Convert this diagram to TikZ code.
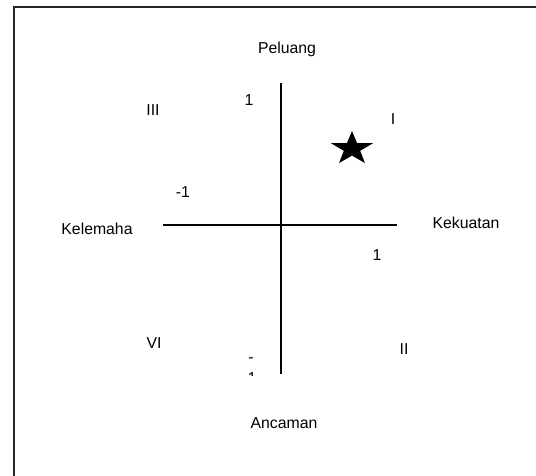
\documentclass[tikz,border=0pt]{standalone}
\usepackage{fontspec}
\setmainfont{Liberation Sans}
\begin{document}
\begin{tikzpicture}[x=1pt,y=-1pt,
  lbl/.style={inner sep=0pt,font=\fontsize{15.8}{18}\selectfont},
  axis/.style={line width=1.4pt,black},
  frame/.style={line width=1.8pt,black!85}]
\useasboundingbox (0,0) rectangle (536,476);
\fill[white] (0,0) rectangle (536,476);
% frame
\coordinate (fbl) at (14,476);
\coordinate (ftl) at (14,7);
\coordinate (ftr) at (536,7);
\draw[frame] (fbl) -- (ftl) -- (ftr);
% axes
\coordinate (vt) at (281,83);
\coordinate (vb) at (281,374);
\coordinate (hl) at (163,225);
\coordinate (hr) at (397,225);
\draw[axis] (vt) -- (vb);
\draw[axis] (hl) -- (hr);
% labels
\node[lbl,anchor=base] (pel) at (287,54) {Peluang};
\node[lbl,anchor=base] (anc) at (284,428) {Ancaman};
\node[lbl,anchor=base] (kel) at (97,234) {Kelemaha};
\node[lbl,anchor=base] (kek) at (466,229) {Kekuatan};
\node[lbl,anchor=base] (q3) at (153,116) {III};
\node[lbl,anchor=base] (q1) at (393,125) {I};
\node[lbl,anchor=base] (q6) at (154,348) {VI};
\node[lbl,anchor=base] (q2) at (404,354) {II};
\node[lbl,anchor=base] (ytop) at (249,106) {1};
\node[lbl,anchor=base] (xneg) at (183,197) {-1};
\node[lbl,anchor=base] (xpos) at (377,260) {1};
\node[lbl,anchor=base] (yneg) at (251,362) {-};
\begin{scope}
\clip (240,360) rectangle (262,375.5);
\node[lbl,anchor=base] (yneg1) at (252,383) {1};
\end{scope}
% star
\begin{scope}[shift={(352,148.7)},yscale=-1]
\fill[black] (90:22 and 17.7)
  \foreach \k in {0,...,4} {
    -- ({90+72*\k}:22 and 17.7)
    -- ({126+72*\k}:8.6 and 6.9)
  } -- cycle;
\end{scope}
\end{tikzpicture}
\end{document}
